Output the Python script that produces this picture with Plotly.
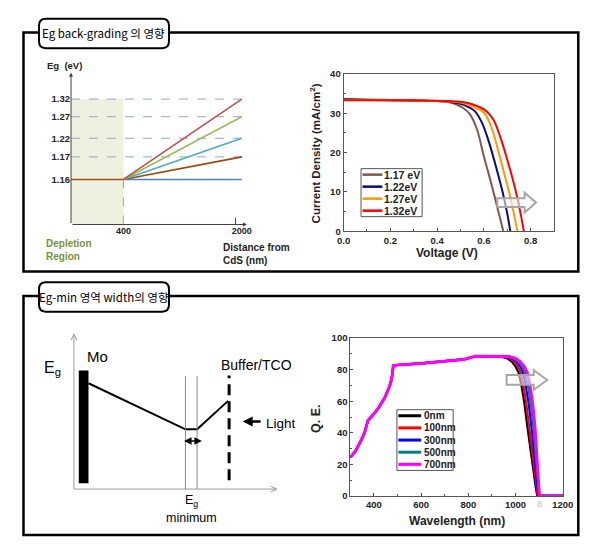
import plotly.graph_objects as go

W, H = 599, 545
def PX(x): return x / W
def PY(y): return 1 - y / H

FONT = "Liberation Sans, Arial, sans-serif"
NARROW = "Liberation Sans Narrow, Arial Narrow, Liberation Sans, sans-serif"
KFONT = "Liberation Sans Narrow, Noto Sans CJK KR, sans-serif"

# ---------------- Panel 1: Eg back-grading schematic ----------------
eg_labels = ["1.16", "1.17", "1.22", "1.27", "1.32"]
eg_pos = [4.6, 6.9, 8.8, 11.0, 12.8]          # schematic (non-linear) positions
eg_colors = ["#4F81BD", "#984807", "#4BACC6", "#9BBB59", "#C0504D"]
dist_labels = ["400", "2000"]
dist_pos = [1.0, 3.26]                          # schematic positions
depl_color = "#A0520F"

# ---------------- Panel 2: J-V curves ----------------
jv_names = ["1.17 eV", "1.22eV", "1.27eV", "1.32eV"]
jv_colors = ["#87564A", "#0A0A80", "#FF9900", "#FF0000"]
v_117 = [0, 0.1, 0.2, 0.3, 0.4, 0.45, 0.48, 0.51, 0.54, 0.57, 0.60, 0.63, 0.66, 0.683]
j_117 = [33.6, 33.5, 33.4, 33.3, 33.1, 32.8, 32.3, 31.4, 29.8, 26.0, 19.0, 12.5, 5.5, 0]
v_122 = [0, 0.1, 0.2, 0.3, 0.4, 0.45, 0.5, 0.53, 0.56, 0.59, 0.62, 0.65, 0.68, 0.70, 0.713]
j_122 = [33.5, 33.4, 33.3, 33.2, 33.1, 32.9, 32.4, 31.7, 30.6, 27.8, 23.0, 16.8, 10.0, 4.5, 0]
v_127 = [0, 0.2, 0.4, 0.45, 0.5, 0.54, 0.57, 0.60, 0.63, 0.66, 0.69, 0.71, 0.73, 0.744]
j_127 = [33.4, 33.3, 33.1, 33.0, 32.7, 32.0, 31.2, 30.2, 26.8, 20.8, 14.0, 9.5, 4.0, 0]
v_132 = [0, 0.2, 0.4, 0.45, 0.5, 0.55, 0.58, 0.61, 0.64, 0.67, 0.70, 0.72, 0.74, 0.757, 0.771]
j_132 = [33.3, 33.3, 33.2, 33.1, 32.9, 32.3, 31.6, 30.6, 28.5, 24.0, 18.2, 14.0, 9.3, 4.5, 0]
jv_v = [v_117, v_122, v_127, v_132]
jv_j = [j_117, j_122, j_127, j_132]

# ---------------- Panel 3: Eg-min schematic (schematic units) ----------------
mo_bar = [5, 15, 6, 121]                  # x0, x1, y0, y1
profile_x = [15, 115, 127, 159]
profile_y = [108, 61, 61, 90]
egmin_edges = [115, 127]

# ---------------- Panel 4: QE ----------------
qe_names = ["0nm", "100nm", "300nm", "500nm", "700nm"]
qe_colors = ["#000000", "#FF0000", "#0000FF", "#008080", "#FF00FF"]
qe_widths = [2.2, 2.2, 2.2, 2.2, 3]
wl_common = [300, 320, 345, 360, 375, 400, 420, 445, 465, 475, 482, 500, 600, 700, 780, 830, 900]
qe_common = [24.5, 28, 35, 40, 48, 52, 56, 62, 69, 74, 82.5, 83, 84, 85.5, 86.5, 88.5, 88.5]
qe_tail = [88.3, 87.2, 85, 82, 78, 70, 59, 44, 30, 18, 6, 0, 0]
wl_tail_0 = [940, 965, 985, 1000, 1013, 1025, 1037, 1050, 1062, 1074, 1085, 1092, 1200]
wl_tail_100 = [950, 975, 995, 1010, 1022, 1033, 1045, 1057, 1068, 1079, 1088, 1094, 1200]
wl_tail_300 = [958, 985, 1005, 1020, 1032, 1043, 1055, 1067, 1077, 1086, 1093, 1097, 1200]
wl_tail_500 = [965, 992, 1012, 1028, 1040, 1052, 1064, 1075, 1084, 1091, 1097, 1099, 1200]
wl_tail_700 = [972, 1000, 1020, 1037, 1050, 1061, 1072, 1082, 1089, 1095, 1099, 1101, 1200]
wl_tails = [wl_tail_0, wl_tail_100, wl_tail_300, wl_tail_500, wl_tail_700]

fig = go.Figure()
shapes, annots = [], []

def note(**kw):
    kw.setdefault("showarrow", False)
    kw.setdefault("xanchor", "center")
    kw.setdefault("yanchor", "middle")
    annots.append(kw)

# ---- Panel 1 ----
shapes.append(dict(type="rect", xref="x", yref="y", x0=0, x1=dist_pos[0], y0=0, y1=eg_pos[-1],
                   fillcolor="#EEF1DF", line=dict(width=0), layer="below"))
for lvl in eg_pos[1:]:
    shapes.append(dict(type="line", xref="x", yref="y", x0=0, x1=dist_pos[1], y0=lvl, y1=lvl,
                       line=dict(color="#8FA9C8", width=1, dash="dash"), layer="below"))
shapes.append(dict(type="line", xref="x", yref="y", x0=dist_pos[0], x1=dist_pos[0], y0=0, y1=eg_pos[0],
                   line=dict(color="#8FA9C8", width=1, dash="dash"), layer="below"))
shapes.append(dict(type="line", xref="x", yref="y", x0=dist_pos[1] - 0.12, x1=dist_pos[1] - 0.12, y0=0, y1=0.7,
                   line=dict(color="#404040", width=1)))
fig.add_trace(go.Scatter(x=[0, dist_pos[0]], y=[eg_pos[0], eg_pos[0]], mode="lines",
                         line=dict(color=depl_color, width=1.6), xaxis="x", yaxis="y",
                         showlegend=False, hoverinfo="skip"))
for lvl, col in zip(eg_pos, eg_colors):
    fig.add_trace(go.Scatter(x=[dist_pos[0], dist_pos[1]], y=[eg_pos[0], lvl], mode="lines",
                             line=dict(color=col, width=1.6), xaxis="x", yaxis="y",
                             showlegend=False, hoverinfo="skip"))
annots.append(dict(x=0, y=15.5, ax=0, ay=0, xref="x", yref="y", axref="x", ayref="y", text="",
                   showarrow=True, arrowhead=2, arrowsize=0.8, arrowwidth=1, arrowcolor="#404040"))
annots.append(dict(x=3.36, y=0, ax=0, ay=0, xref="x", yref="y", axref="x", ayref="y", text="",
                   showarrow=True, arrowhead=2, arrowsize=0.8, arrowwidth=1, arrowcolor="#404040"))
note(x=PX(59), y=PY(61), xref="paper", yref="paper", text="<b>Eg  (eV)</b>",
     font=dict(family=FONT, size=9.5, color="#222"))
note(x=PX(38), y=PY(249), xref="paper", yref="paper", xanchor="left", align="left",
     text="<b>Depletion<br>Region</b>", font=dict(family=FONT, size=10, color="#77933C"))
note(x=PX(221), y=PY(253), xref="paper", yref="paper", xanchor="left", align="left",
     text="<b>Distance from<br>CdS (nm)</b>", font=dict(family=FONT, size=10, color="#222"))

# ---- Panel 2 ----
for v, j, name, col in zip(jv_v, jv_j, jv_names, jv_colors):
    fig.add_trace(go.Scatter(x=v, y=j, mode="lines", name=name, line=dict(color=col, width=2, shape="spline"),
                             xaxis="x2", yaxis="y2", showlegend=False))
shapes.append(dict(type="path", xref="x2", yref="y2",
                   path="M 0.657,6.2 L 0.774,6.2 L 0.774,4.8 L 0.823,7.3 L 0.774,9.8 L 0.774,8.4 L 0.657,8.4 Z",
                   line=dict(color="#A6A6A6", width=2), fillcolor="rgba(255,255,255,0.55)"))
note(x=PX(318), y=PY(150), xref="paper", yref="paper", textangle=-90,
     text="<b>Current Density (mA/cm<sup>2</sup>)</b>", font=dict(family=FONT, size=11.5, color="#222"))
note(x=PX(454), y=PY(252), xref="paper", yref="paper",
     text="<b>Voltage (V)</b>", font=dict(family=FONT, size=12, color="#222"))

def manual_legend(x0, y0, x1, y1, names, colors, line_end, text_x, fsize, lw):
    shapes.append(dict(type="rect", xref="paper", yref="paper", x0=PX(x0), x1=PX(x1), y0=PY(y0), y1=PY(y1),
                       line=dict(color="#555", width=1), fillcolor="white"))
    n = len(names)
    for i, (nm, c) in enumerate(zip(names, colors)):
        yc = y0 + (y1 - y0) * (i + 0.5) / n
        shapes.append(dict(type="line", xref="paper", yref="paper", x0=PX(x0 + 1.5), x1=PX(line_end),
                           y0=PY(yc), y1=PY(yc), line=dict(color=c, width=lw)))
        note(x=PX(text_x), y=PY(yc), xref="paper", yref="paper", xanchor="left",
             text="<b>" + nm + "</b>", font=dict(family=FONT, size=fsize, color="#222"))

manual_legend(365, 166, 428, 215, jv_names, jv_colors, 387, 387, 10.5, 2.5)

# ---- Panel 3 ----
shapes.append(dict(type="rect", xref="x3", yref="y3", x0=mo_bar[0], x1=mo_bar[1], y0=mo_bar[2], y1=mo_bar[3],
                   fillcolor="black", line=dict(width=0)))
for xe in egmin_edges:
    shapes.append(dict(type="line", xref="x3", yref="y3", x0=xe, x1=xe, y0=0, y1=115,
                       line=dict(color="#888", width=1)))
shapes.append(dict(type="line", xref="x3", yref="y3", x0=0, x1=0, y0=0, y1=158, line=dict(color="#999", width=1)))
shapes.append(dict(type="line", xref="x3", yref="y3", x0=0, x1=209, y0=0, y1=0, line=dict(color="#999", width=1)))
shapes.append(dict(type="path", xref="x3", yref="y3", path="M -3,152 L 0,158 L 3,152", line=dict(color="#999", width=1)))
shapes.append(dict(type="path", xref="x3", yref="y3", path="M 203,3 L 209,0 L 203,-3", line=dict(color="#999", width=1)))
shapes.append(dict(type="line", xref="x3", yref="y3", x0=160, x1=160, y0=9, y1=116,
                   line=dict(color="black", width=3, dash="11px,6px")))
fig.add_trace(go.Scatter(x=profile_x, y=profile_y, mode="lines", line=dict(color="black", width=2),
                         xaxis="x3", yaxis="y3", showlegend=False, hoverinfo="skip"))
annots.append(dict(x=132, y=49, ax=112, ay=49, xref="x3", yref="y3", axref="x3", ayref="y3", text="",
                   showarrow=True, arrowhead=2, startarrowhead=2, arrowside="end+start",
                   arrowsize=1, startarrowsize=1, arrowwidth=1.5, arrowcolor="black"))
annots.append(dict(x=174, y=69, ax=194, ay=69, xref="x3", yref="y3", axref="x3", ayref="y3", text="",
                   showarrow=True, arrowhead=2, arrowsize=0.8, arrowwidth=2.5, arrowcolor="black"))
for txt, xx, yy, sz, anc in [("E<sub>g</sub>", -22, 123, 16, "center"), ("Mo", 11, 135, 15, "left"),
                             ("Buffer/TCO", 188, 127, 14, "center"), ("Light", 196, 67, 13.5, "left"),
                             ("E<sub>g</sub>", 121, -12, 12.5, "center"), ("minimum", 121, -30, 12.5, "center")]:
    note(x=xx, y=yy, xref="x3", yref="y3", xanchor=anc, text=txt,
         font=dict(family=NARROW, size=sz, color="black"))

# ---- Panel 4 ----
for nm, col, lw, tail in zip(qe_names, qe_colors, qe_widths, wl_tails):
    fig.add_trace(go.Scatter(x=wl_common + tail, y=qe_common + qe_tail, mode="lines", name=nm,
                             line=dict(color=col, width=lw), xaxis="x4", yaxis="y4", showlegend=False))
shapes.append(dict(type="path", xref="x4", yref="y4",
                   path="M 962,70.4 L 1077,70.4 L 1077,67.3 L 1134,73.5 L 1077,79.7 L 1077,76.6 L 962,76.6 Z",
                   line=dict(color="#A6A6A6", width=2), fillcolor="rgba(255,255,255,0.55)"))
manual_legend(402, 412, 460, 474, qe_names, qe_colors, 427, 428, 10, 3)
note(x=PX(318), y=PY(421), xref="paper", yref="paper", textangle=-90,
     text="<b>Q. E.</b>", font=dict(family=FONT, size=12.5, color="#222"))
note(x=PX(464), y=PY(526), xref="paper", yref="paper",
     text="<b>Wavelength (nm)</b>", font=dict(family=FONT, size=12, color="#222"))
note(x=1100, y=PY(508), xref="x4", yref="paper", text="8",
     font=dict(family=FONT, size=9, color="#C0C0C0"))

# ---- Frames and title boxes ----
def rrect_path(x0, y0, x1, y1, r):
    rx, ry = r / W, r / H
    X0, X1, Y0, Y1 = PX(x0), PX(x1), PY(y0), PY(y1)
    return (f"M {X0+rx},{Y0} L {X1-rx},{Y0} Q {X1},{Y0} {X1},{Y0-ry} "
            f"L {X1},{Y1+ry} Q {X1},{Y1} {X1-rx},{Y1} L {X0+rx},{Y1} "
            f"Q {X0},{Y1} {X0},{Y1+ry} L {X0},{Y0-ry} Q {X0},{Y0} {X0+rx},{Y0} Z")

for (fy0, fy1, by0, by1, title) in [(27, 271, 13, 43, "Eg back-grading 의 영향"),
                                    (296, 540, 282, 312, "Eg-min 영역 width의 영향")]:
    shapes.append(dict(type="rect", xref="paper", yref="paper", x0=PX(17), x1=PX(589), y0=PY(fy0), y1=PY(fy1),
                       line=dict(color="black", width=2.5)))
    shapes.append(dict(type="path", xref="paper", yref="paper", path=rrect_path(33, by0, 167, by1, 7),
                       line=dict(color="black", width=2), fillcolor="white"))
    note(x=PX(100), y=PY((by0 + by1) / 2), xref="paper", yref="paper",
         text=title, font=dict(family=KFONT, size=11.5, color="black"))

ax_common = dict(showgrid=False, zeroline=False, showline=True, linecolor="#555", linewidth=1, mirror=True,
                 ticks="inside", ticklen=3, tickcolor="#555",
                 tickfont=dict(family=FONT, size=9.5, color="#222", weight="bold"))

fig.update_layout(
    width=W, height=H, margin=dict(l=0, r=0, t=0, b=0, pad=0), autosize=False,
    paper_bgcolor="white", plot_bgcolor="white", showlegend=False,
    xaxis=dict(domain=[PX(66), PX(250)], range=[0, 3.407], anchor="y", showgrid=False, zeroline=False,
               showline=False, ticks="", tickvals=dist_pos, ticktext=dist_labels,
               tickfont=dict(family=FONT, size=9, color="#222", weight="bold")),
    yaxis=dict(domain=[PY(223), PY(68)], range=[0, 15.5], anchor="x", showgrid=False, zeroline=False,
               showline=False, ticks="", tickvals=eg_pos, ticktext=eg_labels,
               tickfont=dict(family=FONT, size=9.5, color="#222", weight="bold")),
    xaxis2=dict(domain=[PX(347), PX(564)], range=[0, 0.9], anchor="y2",
                tickvals=[0, 0.2, 0.4, 0.6, 0.8], ticktext=["0.0", "0.2", "0.4", "0.6", "0.8"],
                minor=dict(tickvals=[0.1, 0.3, 0.5, 0.7], ticks="inside", ticklen=2, tickcolor="#555"),
                **ax_common),
    yaxis2=dict(domain=[PY(230), PY(69.3)], range=[0, 40], anchor="x2", tickvals=[0, 10, 20, 30, 40],
                minor=dict(dtick=5, ticks="inside", ticklen=2, tickcolor="#555"), **ax_common),
    xaxis3=dict(domain=[PX(30), PX(300)], range=[-39, 231], anchor="y3", visible=False),
    yaxis3=dict(domain=[PY(535), PY(330)], range=[-42, 163], anchor="x3", visible=False),
    xaxis4=dict(domain=[PX(354), PX(573)], range=[300, 1200], anchor="y4",
                tickvals=[400, 600, 800, 1000, 1200],
                minor=dict(tickvals=[300, 500, 700, 900, 1100], ticks="inside", ticklen=2, tickcolor="#555"),
                **ax_common),
    yaxis4=dict(domain=[PY(500), PY(339)], range=[0, 100], anchor="x4", tickvals=[0, 20, 40, 60, 80, 100],
                minor=dict(dtick=10, ticks="inside", ticklen=2, tickcolor="#555"), **ax_common),
    shapes=shapes, annotations=annots,
)

fig.write_html("out.html", config={"displayModeBar": False},
               post_script="document.body.style.margin='0';document.body.style.overflow='hidden';"
                           "document.documentElement.style.overflow='hidden';")
